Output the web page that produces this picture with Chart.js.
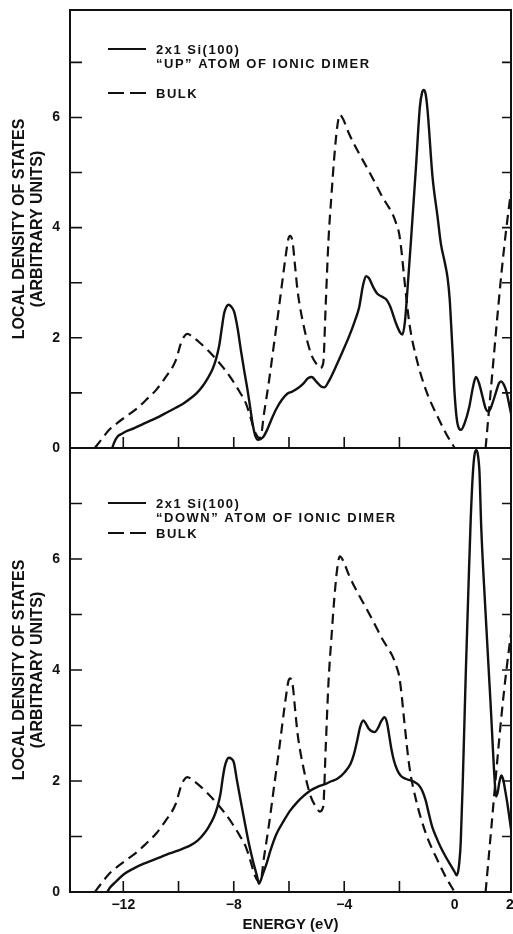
<!DOCTYPE html>
<html>
<head>
<meta charset="utf-8">
<script src="https://cdn.jsdelivr.net/npm/chart.js@4"></script>
<style>
html,body{margin:0;padding:0;background:#fff;}
#wrap{position:relative;width:513px;height:934px;overflow:hidden;background:#fff;}
#cA{position:absolute;left:0;top:0;}
#cB{position:absolute;left:0;top:440px;}
</style>
</head>
<body>
<div id="wrap">
<canvas id="cA" width="513" height="458"></canvas>
<canvas id="cB" width="513" height="494"></canvas>
</div>
<script>
// ---------- data ----------
const xTickValues = [-12, -10, -8, -6, -4, -2, 0, 2];
const xTickLabels = [-12, -8, -4, 0, 2];
const xMinorTicks = [-12, -10, -8, -6, -4, -2];
const yTickValues = [0, 1, 2, 3, 4, 5, 6, 7];
const yTickLabels = [0, 2, 4, 6];
const yTitle = ['LOCAL DENSITY OF STATES', '(ARBITRARY UNITS)'];
const xTitle = 'ENERGY (eV)';
const legendUp = ['2x1 Si(100)', '\u201CUP\u201D ATOM OF IONIC DIMER', 'BULK'];
const legendDown = ['2x1 Si(100)', '\u201CDOWN\u201D ATOM OF IONIC DIMER', 'BULK'];

// bulk LDOS (dashed), same in both panels
const bulkE = [-13.03,-12.8,-12.51,-12.2,-11.91,-11.5,-11.18,-10.8,-10.46,-10.1,
  -9.92,-9.8,-9.68,-9.5,-9.25,-8.95,-8.65,-8.35,-8.05,-7.8,
  -7.56,-7.4,-7.26,-7.13,-7.04,-6.9,-6.72,-6.54,-6.36,-6.11,
  -6.02,-5.96,-5.87,-5.78,-5.69,-5.51,-5.21,-5.0,-4.88,-4.76,
  -4.67,-4.57,-4.46,-4.36,-4.26,-4.16,-4.05,-3.82,-3.5,-3.21,
  -2.9,-2.61,-2.4,-2.25,-2.1,-2.01,-1.92,-1.83,-1.64,-1.4,
  -1.04,-0.56,-0.3,0.0,0.5,1.12,1.3,1.5,1.7,1.86,
  2.05];
const bulkDOS = [0,0.15,0.33,0.46,0.57,0.72,0.87,1.06,1.29,1.59,
  1.89,2.02,2.07,2.02,1.92,1.78,1.62,1.44,1.23,1.03,
  0.81,0.57,0.33,0.2,0.18,0.64,1.23,1.9,2.56,3.52,
  3.80,3.85,3.74,3.3,2.86,2.32,1.72,1.52,1.45,1.54,
  2.6,3.77,4.6,5.28,5.8,6.05,5.98,5.70,5.38,5.12,
  4.83,4.55,4.38,4.25,4.05,3.89,3.55,3.10,2.26,1.66,
  1.05,0.51,0.25,0.0,null,0.0,1.0,2.13,3.2,3.94,
  4.7];

// "UP" atom (solid, top panel)
const upE = [-12.40,-12.33,-12.22,-12.05,-11.91,-11.6,-11.31,-11.0,-10.70,-10.4,
  -10.10,-9.85,-9.62,-9.35,-9.13,-8.95,-8.77,-8.65,-8.53,-8.44,
  -8.35,-8.27,-8.19,-8.10,-7.99,-7.87,-7.74,-7.62,-7.50,-7.40,
  -7.32,-7.22,-7.12,-6.95,-6.80,-6.65,-6.47,-6.25,-6.05,-5.90,
  -5.75,-5.5,-5.30,-5.18,-5.0,-4.85,-4.72,-4.55,-4.30,-4.05,
  -3.82,-3.62,-3.46,-3.32,-3.21,-3.10,-2.95,-2.80,-2.61,-2.45,
  -2.32,-2.13,-1.98,-1.89,-1.80,-1.72,-1.58,-1.40,-1.26,-1.18,
  -1.12,-1.05,-0.98,-0.80,-0.62,-0.50,-0.35,-0.26,-0.18,-0.13,
  -0.06,-0.01,0.10,0.23,0.36,0.53,0.66,0.77,0.88,1.01,
  1.12,1.23,1.36,1.50,1.60,1.68,1.77,1.86,1.95,2.05];
const upDOS = [0,0.10,0.20,0.26,0.30,0.36,0.43,0.50,0.57,0.65,
  0.73,0.80,0.88,0.99,1.12,1.26,1.43,1.60,1.85,2.15,
  2.44,2.56,2.60,2.57,2.48,2.20,1.77,1.40,1.05,0.72,
  0.45,0.22,0.15,0.19,0.32,0.50,0.70,0.88,0.99,1.02,
  1.06,1.16,1.27,1.29,1.20,1.12,1.10,1.22,1.48,1.76,
  2.03,2.30,2.55,2.95,3.12,3.08,2.92,2.80,2.74,2.68,
  2.55,2.27,2.10,2.06,2.30,2.80,3.78,5.11,6.19,6.45,
  6.50,6.42,6.12,4.91,4.20,3.71,3.35,3.10,2.70,2.26,
  1.60,1.05,0.45,0.33,0.45,0.75,1.10,1.29,1.18,0.93,
  0.72,0.66,0.80,1.02,1.17,1.21,1.16,1.05,0.85,0.60];

// "DOWN" atom (solid, bottom panel)
const downE = [-12.58,-12.48,-12.28,-11.98,-11.6,-11.26,-10.95,-10.65,-10.35,-10.05,
  -9.8,-9.57,-9.3,-9.08,-8.9,-8.72,-8.6,-8.48,-8.40,-8.33,
  -8.25,-8.18,-8.08,-8.00,-7.88,-7.75,-7.60,-7.45,-7.30,-7.15,
  -7.09,-6.95,-6.80,-6.67,-6.45,-6.18,-5.95,-5.70,-5.45,-5.22,
  -4.95,-4.67,-4.45,-4.25,-4.0,-3.77,-3.65,-3.53,-3.42,-3.31,
  -3.21,-3.11,-2.90,-2.75,-2.68,-2.54,-2.45,-2.38,-2.30,-2.20,
  -2.08,-1.96,-1.78,-1.59,-1.45,-1.29,-1.17,-1.05,-0.93,-0.81,
  -0.66,-0.51,-0.33,-0.14,0.0,0.07,0.15,0.22,0.30,0.40,
  0.50,0.58,0.66,0.72,0.78,0.84,0.90,0.96,1.10,1.30,
  1.45,1.50,1.56,1.62,1.69,1.76,1.84,1.91,2.05];
const downDOS = [0,0.08,0.18,0.32,0.43,0.51,0.57,0.63,0.69,0.74,
  0.79,0.84,0.93,1.05,1.18,1.35,1.52,1.77,2.05,2.25,
  2.38,2.42,2.40,2.34,2.00,1.65,1.25,0.87,0.55,0.27,
  0.15,0.32,0.53,0.75,1.05,1.29,1.47,1.62,1.74,1.83,
  1.90,1.95,2.00,2.04,2.15,2.31,2.48,2.73,2.98,3.09,
  3.03,2.94,2.88,2.98,3.06,3.15,3.05,2.85,2.60,2.37,
  2.20,2.10,2.04,2.01,1.98,1.92,1.82,1.65,1.40,1.17,
  0.98,0.81,0.64,0.48,0.36,0.30,0.45,0.90,2.10,3.90,
  5.50,6.70,7.55,7.88,7.96,7.88,7.55,6.60,5.20,3.40,
  2.00,1.72,1.80,1.98,2.10,2.02,1.80,1.59,1.10];

// ---------- styling / layout ----------
const XMIN = -13.93, XMAX = 2.04;
const INK = '#111';
const FONT = "'Liberation Sans', Arial, Helvetica, sans-serif";

function pts(es, vs) { return es.map((e, i) => ({x: e, y: vs[i]})); }
function fmt(v) { return v < 0 ? '\u2212' + Math.abs(v) : String(v); }
function zeroPad(s) { s.paddingTop = 0; s.paddingBottom = 0; s.paddingLeft = 0; s.paddingRight = 0; }

function framePlugin(legend, rows) {
  return {
    id: 'frame',
    afterDraw(chart) {
      const {ctx, chartArea: a} = chart;
      const x = chart.scales.x, y = chart.scales.y;
      ctx.save();
      ctx.strokeStyle = INK;
      ctx.lineWidth = 2;
      ctx.lineCap = 'square';
      ctx.setLineDash([]);
      ctx.strokeRect(a.left, a.top, a.right - a.left, a.bottom - a.top);
      ctx.lineWidth = 1.6;
      ctx.lineCap = 'butt';
      ctx.beginPath();
      yTickValues.forEach(v => {
        if (v === 0) return;
        const py = y.getPixelForValue(v);
        ctx.moveTo(a.left, py); ctx.lineTo(a.left + 12, py);
        ctx.moveTo(a.right, py); ctx.lineTo(a.right - 9, py);
      });
      xMinorTicks.forEach(v => {
        const px = x.getPixelForValue(v);
        ctx.moveTo(px, a.bottom); ctx.lineTo(px, a.bottom - 11);
      });
      ctx.stroke();
      // legend
      const lx0 = 108, lx1 = 146, tx = 156;
      ctx.lineWidth = 2.2;
      ctx.beginPath();
      ctx.moveTo(lx0, a.top + rows[0]); ctx.lineTo(lx1, a.top + rows[0]);
      ctx.stroke();
      ctx.setLineDash([16, 6]);
      ctx.beginPath();
      ctx.moveTo(lx0, a.top + rows[2]); ctx.lineTo(lx1 + 1, a.top + rows[2]);
      ctx.stroke();
      ctx.setLineDash([]);
      ctx.fillStyle = INK;
      ctx.font = "bold 13px " + FONT;
      try { ctx.letterSpacing = '1.5px'; } catch (e) {}
      ctx.textBaseline = 'middle';
      ctx.textAlign = 'left';
      legend.forEach((t, i) => ctx.fillText(t, tx, a.top + rows[i] + 1));
      ctx.restore();
    }
  };
}

function yAxis(ymax) {
  return {
    type: 'linear', min: 0, max: ymax,
    afterBuildTicks: s => { s.ticks = yTickValues.map(v => ({value: v})); },
    ticks: {
      callback: v => yTickLabels.includes(v) ? String(v) : null,
      font: {family: FONT, size: 14, weight: 'bold'}, color: INK, padding: 10
    },
    grid: {display: false, drawTicks: false},
    border: {display: false},
    title: {
      display: true, text: yTitle, color: INK,
      font: {family: FONT, size: 16, weight: 'bold', lineHeight: 1.1},
      padding: {top: 11.2, bottom: 0}
    },
    afterFit: s => { s.width = 70; zeroPad(s); }
  };
}

function solidDs(data) {
  return {data, borderColor: INK, borderWidth: 2.4, pointRadius: 0, fill: false,
    cubicInterpolationMode: 'monotone', spanGaps: false};
}
function dashDs(data) {
  return {data, borderColor: INK, borderWidth: 2.2, borderDash: [10, 6], pointRadius: 0, fill: false,
    cubicInterpolationMode: 'monotone', spanGaps: false};
}

const common = {
  responsive: false, animation: false, events: [],
  plugins: {legend: {display: false}, tooltip: {enabled: false}},
  parsing: false
};

new Chart(document.getElementById('cA'), {
  type: 'line',
  data: {datasets: [solidDs(pts(upE, upDOS)), dashDs(pts(bulkE, bulkDOS))]},
  options: Object.assign({}, common, {
    layout: {padding: {top: 10, right: 2, left: 0, bottom: 0}},
    scales: {
      x: {
        type: 'linear', min: XMIN, max: XMAX,
        afterBuildTicks: s => { s.ticks = xTickValues.map(v => ({value: v})); },
        ticks: {display: false},
        grid: {display: false, drawTicks: false},
        border: {display: false},
        afterFit: s => { s.height = 10; zeroPad(s); }
      },
      y: yAxis(7.95)
    }
  }),
  plugins: [framePlugin(legendUp, [39, 53.5, 83])]
});

new Chart(document.getElementById('cB'), {
  type: 'line',
  data: {datasets: [solidDs(pts(downE, downDOS)), dashDs(pts(bulkE, bulkDOS))]},
  options: Object.assign({}, common, {
    layout: {padding: {top: 8, right: 2, left: 0, bottom: 0}},
    scales: {
      x: {
        type: 'linear', min: XMIN, max: XMAX,
        afterBuildTicks: s => { s.ticks = xTickValues.map(v => ({value: v})); },
        ticks: {
          display: true, autoSkip: false, maxRotation: 0,
          callback: v => xTickLabels.includes(v) ? fmt(v) : null,
          font: {family: FONT, size: 14, weight: 'bold'}, color: INK, padding: 5
        },
        grid: {display: false, drawTicks: false},
        border: {display: false},
        title: {display: true, text: xTitle, color: INK,
          font: {family: FONT, size: 15, weight: 'bold'}, padding: {top: 0, bottom: 0}},
        afterFit: s => { s.height = 42; zeroPad(s); }
      },
      y: yAxis(8)
    }
  }),
  plugins: [framePlugin(legendDown, [55, 69, 85])]
});
</script>
</body>
</html>
